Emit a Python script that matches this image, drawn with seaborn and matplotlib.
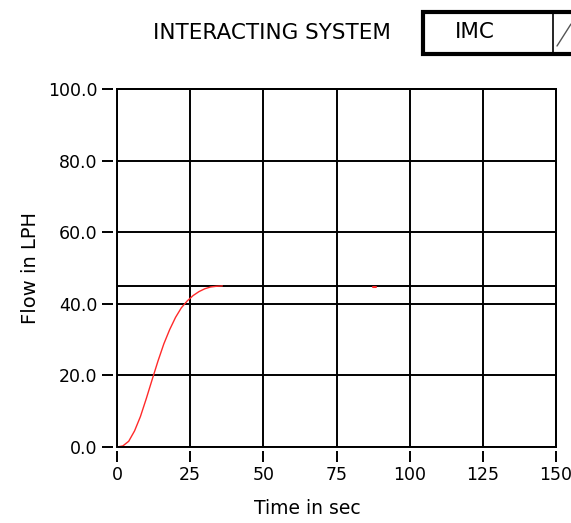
import numpy as np
import pandas as pd
import matplotlib
matplotlib.use('Agg')
import matplotlib.pyplot as plt
import seaborn as sns
from matplotlib.patches import Rectangle
from matplotlib.lines import Line2D

# ===== data =====
time_sec = [0, 2, 4, 6, 8, 10, 12, 14, 16, 18, 20, 22, 24, 26, 28, 30, 32, 34, 36]
flow_lph = [0.0, 0.3, 1.6, 4.5, 8.5, 13.5, 18.8, 24.0, 28.8, 32.8, 36.2, 38.9, 40.8,
            42.3, 43.4, 44.2, 44.7, 44.9, 45.0]
dot_time = [87.5, 88.5]
dot_flow = [44.8, 44.8]
setpoint = 45.0
x_ticks = [0, 25, 50, 75, 100, 125, 150]
y_ticks = [0, 20, 40, 60, 80, 100]

df = pd.DataFrame({'Time': time_sec, 'Flow': flow_lph})
df_dot = pd.DataFrame({'Time': dot_time, 'Flow': dot_flow})

sns.set_style('white')
plt.rcParams['font.family'] = ['DejaVu Sans']
plt.rcParams['text.color'] = 'black'
plt.rcParams['axes.labelcolor'] = 'black'

fig = plt.figure(figsize=(5.71, 5.23), dpi=100)
ax = fig.add_axes([117 / 571, 1 - 447 / 523, (556 - 117) / 571, (447 - 89) / 523])

ax.set_xlim(0, 150)
ax.set_ylim(0, 100)
ax.set_xticks(x_ticks)
ax.set_yticks(y_ticks)
ax.set_yticklabels([f'{v:.1f}' for v in y_ticks])
ax.grid(True, color='black', linewidth=1.4)
ax.set_axisbelow(True)

ax.axhline(setpoint, color='black', linewidth=1.4, zorder=2)
sns.lineplot(data=df, x='Time', y='Flow', color='#ff2a2a', linewidth=1.0, ax=ax, zorder=3)
sns.lineplot(data=df_dot, x='Time', y='Flow', color='#ff2a2a', linewidth=1.5, ax=ax, zorder=3)

# ticks sit a little away from the frame
for side in ['left', 'bottom']:
    ax.spines[side].set_position(('outward', 3))
    ax.spines[side].set_color('none')
for side in ['top', 'right']:
    ax.spines[side].set_color('black')
    ax.spines[side].set_linewidth(1.4)
ax.add_patch(Rectangle((0, 0), 1, 1, transform=ax.transAxes, fill=False,
                       edgecolor='black', linewidth=1.4, clip_on=False, zorder=4))

ax.tick_params(axis='both', direction='out', length=8, width=1.4, color='black',
               labelsize=12.5, labelcolor='black', pad=3, left=True, bottom=True)
ax.set_xlabel('Time in sec', fontsize=13.5, labelpad=6, color='black')
ax.xaxis.set_label_coords((307 - 117) / 439, -0.145)
ax.set_ylabel('Flow in LPH', fontsize=14, labelpad=6, color='black')

# header text and the IMC box
fig.text(272 / 571, 1 - 33 / 523, 'INTERACTING SYSTEM', fontsize=15.5,
         ha='center', va='center', color='black')
fig.add_artist(Rectangle((423 / 571, 1 - 54 / 523), 160 / 571, 42 / 523,
                         transform=fig.transFigure, fill=True, facecolor='white',
                         edgecolor='black', linewidth=3.0))
fig.add_artist(Line2D([553 / 571, 553 / 571], [1 - 52 / 523, 1 - 14 / 523],
                      transform=fig.transFigure, color='black', linewidth=1.2))
fig.add_artist(Line2D([557 / 571, 571 / 571], [1 - 46 / 523, 1 - 24 / 523],
                      transform=fig.transFigure, color='#555555', linewidth=1.0))
fig.text(475 / 571, 1 - 32 / 523, 'IMC', fontsize=15.5, ha='center', va='center',
         color='black')

plt.savefig('out.png', dpi=100)
